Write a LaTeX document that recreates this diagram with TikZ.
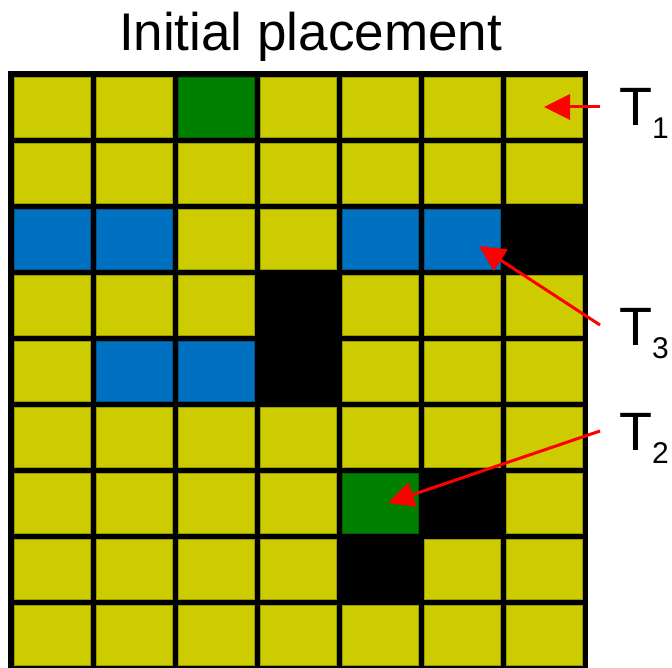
\documentclass[tikz,border=0pt]{standalone}
\usepackage{fontspec}
\setmainfont{Liberation Sans}
\usetikzlibrary{arrows.meta}
\definecolor{cy}{HTML}{CCCC00}
\definecolor{cg}{HTML}{008000}
\definecolor{cb}{HTML}{0070C0}
\definecolor{ck}{HTML}{000000}
\tikzset{
  cell/.style={rectangle, inner sep=0pt, minimum width=76pt, minimum height=60pt, line width=0.6pt},
  pointer/.style={draw=red, line width=3pt, -{Triangle[length=26pt,width=25pt]}},
  tlabel/.style={anchor=base west, inner sep=0pt, font=\fontsize{54}{60}\selectfont},
  title/.style={anchor=base, inner sep=0pt, font=\fontsize{53}{60}\selectfont}
}
\begin{document}
\begin{tikzpicture}[x=1pt,y=-1pt]
\useasboundingbox (0,0) rectangle (672,668);
\node[title] (ttl) at (310.5,51) {Initial placement};
\fill[black] (8,71) rectangle (588,668);
\foreach \row [count=\j from 0] in {{y,y,g,y,y,y,y},{y,y,y,y,y,y,y},{b,b,y,y,b,b,k},{y,y,y,k,y,y,y},{y,b,b,k,y,y,y},{y,y,y,y,y,y,y},{y,y,y,y,g,k,y},{y,y,y,y,k,y,y},{y,y,y,y,y,y,y}}{
  \foreach \c [count=\i from 0] in \row {
    \node[cell, fill=c\c, draw=c\c!75!black] (c\i-\j) at ({52+82*\i},{107+66*\j}) {};
  }
}
\node[tlabel] (t1) at (619,126) {T\raisebox{-13pt}{\fontsize{30}{30}\selectfont 1}};
\node[tlabel] (t3) at (619,345) {T\raisebox{-13pt}{\fontsize{30}{30}\selectfont 3}};
\node[tlabel] (t2) at (619,450) {T\raisebox{-13pt}{\fontsize{30}{30}\selectfont 2}};
\coordinate (a1) at (600,107);
\coordinate (a3) at (600,325);
\coordinate (a2) at (600,431);
\coordinate (h3) at (479,246);
\draw[pointer] (a1) -- (c6-0.center);
\draw[pointer] (a3) -- (h3);
\draw[pointer] (a2) -- ([xshift=8pt]c4-6.center);
\end{tikzpicture}
\end{document}
